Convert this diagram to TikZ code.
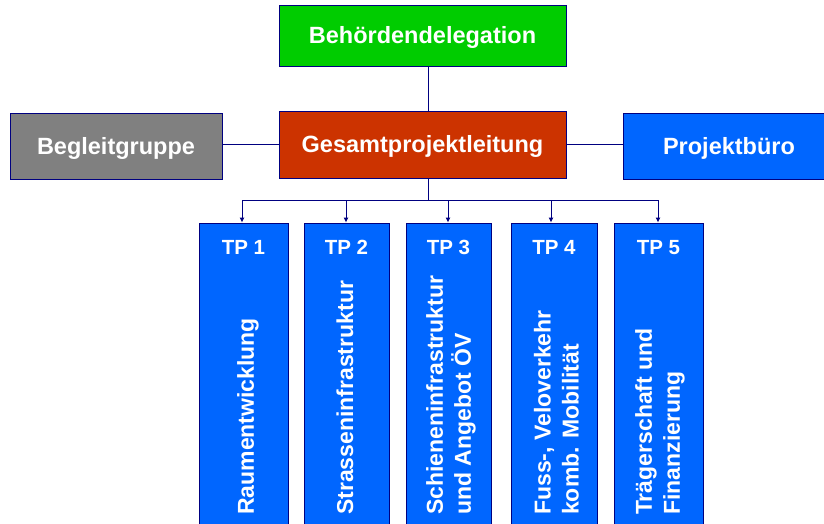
\documentclass[tikz,border=0pt]{standalone}
\usepackage{fontspec}
\setmainfont{Liberation Sans}
\usetikzlibrary{arrows.meta}
\definecolor{cgreen}{RGB}{0,204,0}
\definecolor{cred}{RGB}{204,51,0}
\definecolor{cgray}{RGB}{128,128,128}
\definecolor{cblue}{RGB}{0,102,255}
\definecolor{cnavy}{RGB}{0,0,128}
\begin{document}
\begin{tikzpicture}[x=1pt,y=-1pt,
  box/.style={draw=cnavy, line width=0.8pt, inner sep=0pt, text=white,
    text height=17pt, text depth=0pt,
    font=\fontsize{23.5}{27}\selectfont\bfseries},
  tpbox/.style={draw=cnavy, line width=0.8pt, fill=cblue, inner sep=0pt,
    minimum height=310pt},
  tplabel/.style={text=white, inner sep=0pt, text height=15pt, text depth=0pt,
    font=\fontsize{20.5}{24}\selectfont\bfseries},
  vlabel/.style={rotate=90, anchor=west, align=left, inner sep=0pt, text=white,
    font=\fontsize{23}{28}\selectfont\bfseries},
  conn/.style={draw=cnavy, line width=1pt},
  arr/.style={conn, -{Latex[length=5pt,width=5pt]}}]
\clip (0,0) rectangle (824,524);
\fill[white] (0,0) rectangle (824,524);

% top boxes
\node[box, fill=cgreen, minimum width=287pt, minimum height=61pt] (beh) at (422.5,35.5) {Behördendelegation};
\node[box, fill=cred, minimum width=287pt, minimum height=67pt] (gpl) at (422.5,144.5) {Gesamtprojektleitung};
\node[box, fill=cgray, minimum width=212pt, minimum height=66pt] (beg) at (116,146) {Begleitgruppe};
\node[box, fill=cblue, minimum width=212pt, minimum height=66pt] (pb) at (729,146) {Projektbüro};

% TP boxes
\node[tpbox, minimum width=89pt] (tp1) at (243.5,378) {};
\node[tpbox, minimum width=85pt] (tp2) at (346.5,378) {};
\node[tpbox, minimum width=85pt] (tp3) at (448.5,378) {};
\node[tpbox, minimum width=86pt] (tp4) at (554,378) {};
\node[tpbox, minimum width=89pt] (tp5) at (658.5,378) {};

\node[tplabel] (h1) at (243.5,247) {TP 1};
\node[tplabel] (h2) at (346.5,247) {TP 2};
\node[tplabel] (h3) at (448.5,247) {TP 3};
\node[tplabel] (h4) at (554,247) {TP 4};
\node[tplabel] (h5) at (658.5,247) {TP 5};

\node[vlabel] (t1) at (248,515) {Raumentwicklung};
\node[vlabel] (t2) at (345,515) {Strasseninfrastruktur};
\node[vlabel] (t3) at (451,515) {Schieneninfrastruktur\\und Angebot ÖV};
\node[vlabel] (t4) at (556.5,515) {Fuss-, Veloverkehr\\komb. Mobilität};
\node[vlabel] (t5) at (660,515) {Trägerschaft und\\Finanzierung};

% connectors
\coordinate (trunk) at (428,200);
\draw[conn] (trunk |- beh.south) -- (trunk |- gpl.north);
\draw[conn] (beg.east |- 0,144) -- (gpl.west |- 0,144);
\draw[conn] (gpl.east |- 0,144) -- (pb.west |- 0,144);
\draw[conn] (trunk |- gpl.south) -- (trunk);
\coordinate (b1) at (242,200);
\coordinate (b2) at (346,200);
\coordinate (b3) at (448,200);
\coordinate (b4) at (551,200);
\coordinate (b5) at (658,200);
\draw[conn] (b1) -- (b5);
\draw[arr] (b1) -- (b1 |- tp1.north);
\draw[arr] (b2) -- (b2 |- tp2.north);
\draw[arr] (b3) -- (b3 |- tp3.north);
\draw[arr] (b4) -- (b4 |- tp4.north);
\draw[arr] (b5) -- (b5 |- tp5.north);
\end{tikzpicture}
\end{document}
